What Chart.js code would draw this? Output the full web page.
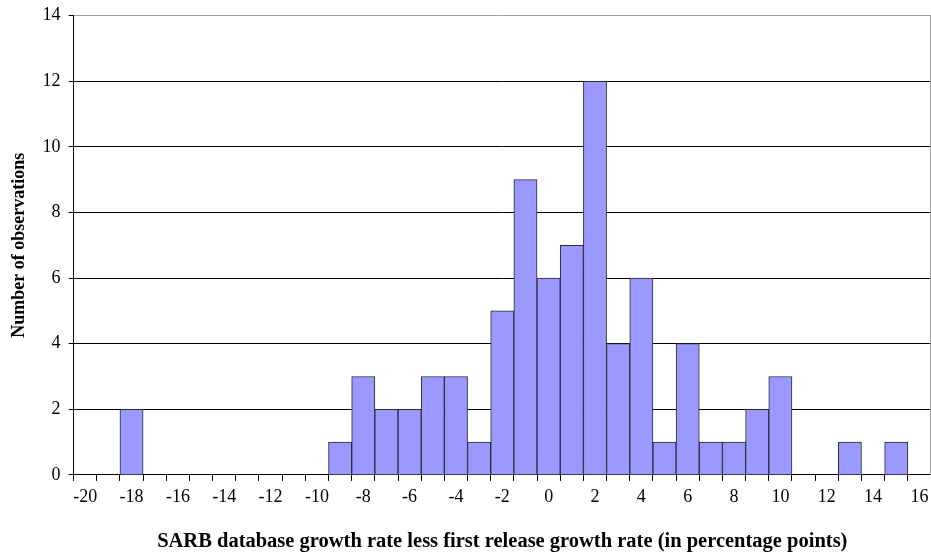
<!DOCTYPE html>
<html>
<head>
<meta charset="utf-8">
<script src="https://cdn.jsdelivr.net/npm/chart.js@4.4.1/dist/chart.umd.min.js"></script>
<style>
html,body{margin:0;padding:0;background:#fff;}
canvas{display:block;}
</style>
</head>
<body>
<canvas id="c" width="931" height="554"></canvas>
<script>
const categories = [-20,-19,-18,-17,-16,-15,-14,-13,-12,-11,-10,-9,-8,-7,-6,-5,-4,-3,-2,-1,0,1,2,3,4,5,6,7,8,9,10,11,12,13,14,15,16];
const observations = [0,0,2,0,0,0,0,0,0,0,0,1,3,2,2,3,3,1,5,9,6,7,12,4,6,1,4,1,1,2,3,0,0,1,0,1,0];
const yTicks = [0,2,4,6,8,10,12,14];
const xTitle = 'SARB database growth rate less first release growth rate (in percentage points)';
const yTitle = 'Number of observations';

const FONT = "'Liberation Serif', 'Times New Roman', serif";

const framePlugin = {
  id: 'frame',
  afterDraw(chart) {
    const a = chart.chartArea, ctx = chart.ctx;
    ctx.save();
    ctx.strokeStyle = '#a0a0a0';
    ctx.lineWidth = 1;
    ctx.beginPath();
    ctx.moveTo(a.right - 0.5, a.top);
    ctx.lineTo(a.right - 0.5, a.bottom);
    ctx.stroke();
    ctx.restore();
  }
};

new Chart(document.getElementById('c'), {
  type: 'bar',
  data: {
    labels: categories.map(String),
    datasets: [{
      data: observations,
      backgroundColor: '#9999ff',
      borderColor: '#2a2a33',
      borderWidth: 1,
      barPercentage: 1,
      categoryPercentage: 1
    }]
  },
  options: {
    responsive: false,
    animation: false,
    layout: { padding: { top: 2, right: 0, left: 9, bottom: 0 } },
    plugins: { legend: { display: false }, tooltip: { enabled: false } },
    scales: {
      x: {
        type: 'category',
        grid: { offset: true, drawOnChartArea: false, drawTicks: true, tickLength: 6, color: '#000' },
        border: { color: '#000', width: 1 },
        ticks: {
          autoSkip: false, maxRotation: 0, color: '#000', padding: 2,
          font: { family: FONT, size: 18, lineHeight: 1.64 },
          callback: function(v, i) { const c = categories[i]; return c % 2 === 0 ? String(c) : ''; }
        },
        title: { display: true, text: xTitle, color: '#000', font: { family: FONT, size: 20.5, weight: 'bold' }, padding: { top: 15, bottom: 0 } }
      },
      y: {
        min: 0, max: 14,
        afterBuildTicks(axis) { axis.ticks = yTicks.map(v => ({ value: v })); },
        grid: {
          color: ctx => (ctx.tick && ctx.tick.value === 14) ? '#a0a0a0' : '#000',
          tickColor: '#000', tickLength: 5, drawTicks: true
        },
        border: { color: '#000', width: 1 },
        ticks: { color: '#000', padding: 8, font: { family: FONT, size: 18, lineHeight: 0.85 } },
        title: { display: true, text: yTitle, color: '#000', font: { family: FONT, size: 18, weight: 'bold' }, padding: { top: 0, bottom: 4 } }
      }
    }
  },
  plugins: [framePlugin]
});
</script>
</body>
</html>
